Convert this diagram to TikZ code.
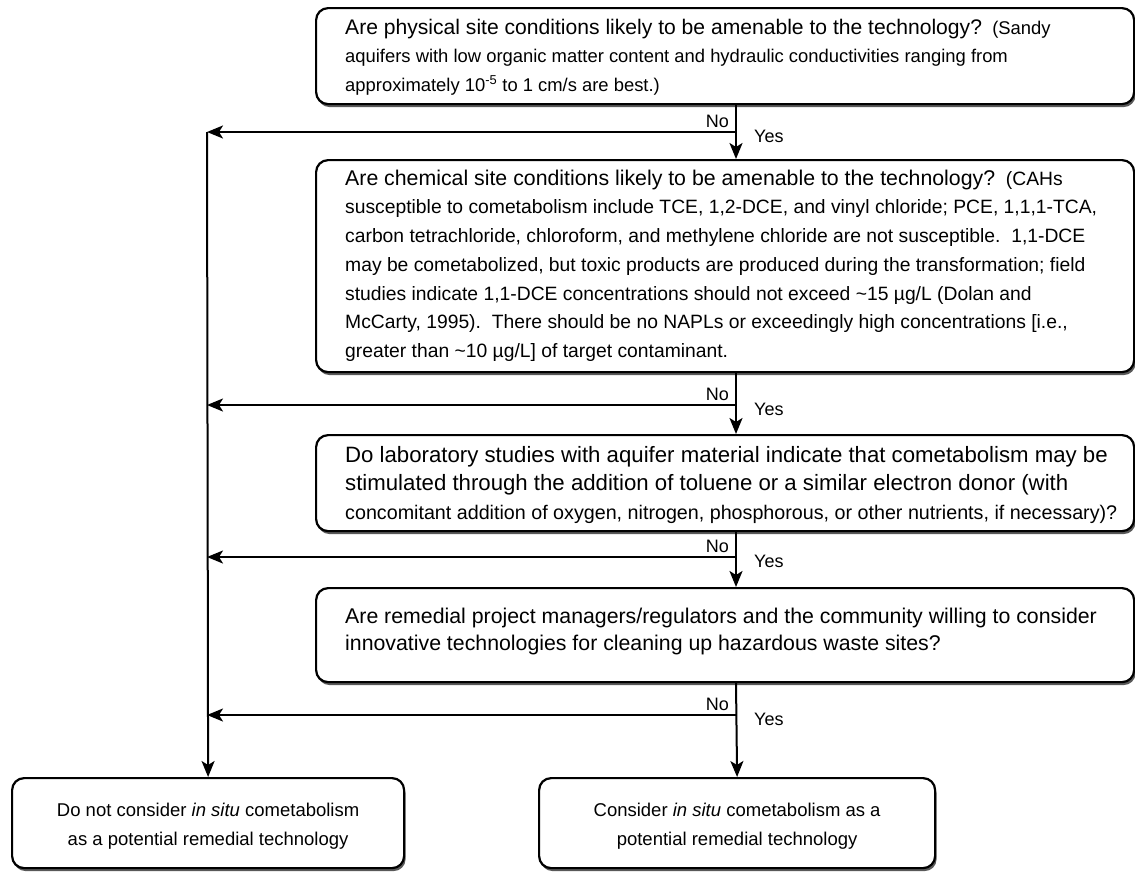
\documentclass[tikz,border=0pt]{standalone}
\usepackage{fontspec}
\setmainfont{Liberation Sans}
\usetikzlibrary{arrows.meta,shadows}
\newcommand\qsizeA{\fontsize{21.1}{28.5}\selectfont}
\newcommand\dsizeA{\fontsize{18.4}{28.5}\selectfont}
\newcommand\qsizeB{\fontsize{21.3}{28.7}\selectfont}
\newcommand\dsizeB{\fontsize{19.3}{28.7}\selectfont}
\newcommand\qsizeC{\fontsize{22.2}{28.5}\selectfont}
\newcommand\csizeC{\fontsize{19.7}{28.5}\selectfont}
\newcommand\qsizeD{\fontsize{21.3}{27}\selectfont}
\newcommand\bsize{\fontsize{18.5}{28.5}\selectfont}
\frenchspacing
\begin{document}
\begin{tikzpicture}[x=1pt,y=-1pt,
  qbox/.style={draw, line width=2.2pt, rounded corners=12pt, fill=white, anchor=north west, inner sep=0pt,
    drop shadow={shadow xshift=1.5pt, shadow yshift=-3pt, fill=black!65, opacity=1}},
  txt/.style={anchor=north west, inner sep=0pt, align=left},
  arr/.style={line width=2pt, -{Stealth[length=16pt,width=13pt,inset=4pt]}},
  nolab/.style={inner sep=0pt, anchor=base east, font=\fontsize{18}{20}\selectfont},
  yeslab/.style={inner sep=0pt, anchor=base west, font=\fontsize{18}{20}\selectfont}]
\useasboundingbox (0,0) rectangle (1135,871);
% boxes
\node[qbox, minimum width=818, minimum height=96] (b1) at (315,7) {};
\node[qbox, minimum width=818, minimum height=212] (b2) at (315,159) {};
\node[qbox, minimum width=818, minimum height=96] (b3) at (315,434) {};
\node[qbox, minimum width=818, minimum height=94] (b4) at (315,587) {};
\node[qbox, minimum width=392, minimum height=90] (b5) at (11,777) {};
\node[qbox, minimum width=396, minimum height=90] (b6) at (538,777) {};
% texts (top = first baseline - 0.7*baselineskip)
\node[txt, font=\qsizeA] (t1) at (345,14) {\strut Are physical site conditions likely to be amenable to the technology?\dsizeA\ \ (Sandy\\
\dsizeA aquifers with low organic matter content and hydraulic conductivities ranging from\\
\dsizeA approximately 10\textsuperscript{-5} to 1 cm/s are best.)};
\node[txt, font=\qsizeB] (t2) at (345,165) {\strut Are chemical site conditions likely to be amenable to the technology?\dsizeB\ \ (CAHs\\
\dsizeB susceptible to cometabolism include TCE, 1,2-DCE, and vinyl chloride; PCE, 1,1,1-TCA,\\
\dsizeB carbon tetrachloride, chloroform, and methylene chloride are not susceptible.\ \ 1,1-DCE\\
\dsizeB may be cometabolized, but toxic products are produced during the transformation; field\\
\dsizeB studies indicate 1,1-DCE concentrations should not exceed \textasciitilde 15 µg/L (Dolan and\\
\dsizeB McCarty, 1995).\ \ There should be no NAPLs or exceedingly high concentrations [i.e.,\\
\dsizeB greater than \textasciitilde 10 µg/L] of target contaminant.};
\node[txt, font=\qsizeC] (t3) at (345,442) {\strut Do laboratory studies with aquifer material indicate that cometabolism may be\\
\qsizeC stimulated through the addition of toluene or a similar electron donor (with\\
\csizeC concomitant addition of oxygen, nitrogen, phosphorous, or other nutrients, if necessary)?};
\node[txt, font=\qsizeD] (t4) at (345,604) {\strut Are remedial project managers/regulators and the community willing to consider\\
\qsizeD innovative technologies for cleaning up hazardous waste sites?};
\node[align=center, font=\bsize, inner sep=0pt] (t5) at ([yshift=-3pt]b5.center) {Do not consider \textit{in situ} cometabolism\\as a potential remedial technology};
\node[align=center, font=\bsize, inner sep=0pt] (t6) at ([yshift=-3pt]b6.center) {Consider \textit{in situ} cometabolism as a\\potential remedial technology};
% junctions
\coordinate (j1) at (736,132);
\coordinate (j2) at (736,405);
\coordinate (j3) at (736,557);
\coordinate (j4) at (736,715);
\coordinate (l1) at (207,132);
% main flow
\draw[arr] (b1.south -| j1) -- (b2.north -| j1);
\draw[arr] (b2.south -| j2) -- (b3.north -| j2);
\draw[arr] (b3.south -| j3) -- (b4.north -| j3);
\draw[arr] (b4.south -| j4) -- (b6.north);
% no branches
\draw[arr] (j1) -- (l1);
\draw[arr] (j2) -- (j2 -| l1);
\draw[arr] (j3) -- (j3 -| l1);
\draw[arr] (j4) -- (j4 -| l1);
\draw[arr] (l1) -- (b5.north);
% labels
\node[nolab] (n1) at ([xshift=-7pt,yshift=5pt]j1) {No};
\node[nolab] (n2) at ([xshift=-7pt,yshift=5pt]j2) {No};
\node[nolab] (n3) at ([xshift=-7pt,yshift=5pt]j3) {No};
\node[nolab] (n4) at ([xshift=-7pt,yshift=5pt]j4) {No};
\node[yeslab] (y1) at ([xshift=18pt,yshift=-10pt]j1) {Yes};
\node[yeslab] (y2) at ([xshift=18pt,yshift=-10pt]j2) {Yes};
\node[yeslab] (y3) at ([xshift=18pt,yshift=-10pt]j3) {Yes};
\node[yeslab] (y4) at ([xshift=18pt,yshift=-10pt]j4) {Yes};
\end{tikzpicture}
\end{document}
